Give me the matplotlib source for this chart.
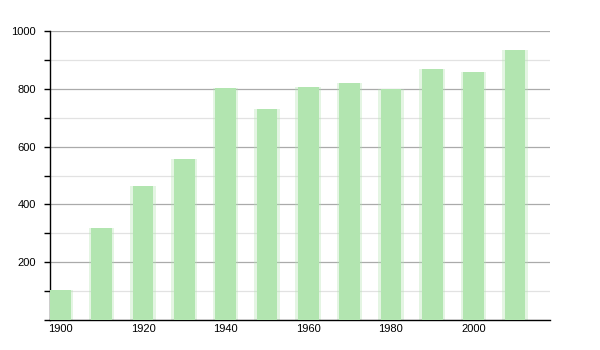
import matplotlib
matplotlib.use("Agg")
import matplotlib.pyplot as plt
from matplotlib.ticker import MultipleLocator

years = [1900, 1910, 1920, 1930, 1940, 1950, 1960, 1970, 1980, 1990, 2000, 2010]
values = [105, 318, 464, 557, 803, 730, 806, 820, 799, 868, 858, 934]
xtick_labels = ["1900", "1920", "1940", "1960", "1980", "2000"]
ytick_labels = ["200", "400", "600", "800", "1000"]

plt.rcParams['font.family'] = ['Liberation Sans', 'DejaVu Sans']

fig = plt.figure(figsize=(6, 3.5), dpi=100)
ax = fig.add_axes([50/600, 30/350, 500/600, 289/350])

color = '#b2e5b0'
# soft edges
ax.bar(years, values, width=6.2, color=color, alpha=0.35, zorder=2, linewidth=0)
ax.bar(years, values, width=5.0, color=color, zorder=3, linewidth=0)

ax.set_xlim(1897.5, 2018.5)
ax.set_ylim(0, 1000)
ax.yaxis.set_major_locator(MultipleLocator(200))
ax.yaxis.set_minor_locator(MultipleLocator(100))
ax.set_yticks([int(t) for t in ytick_labels])
ax.set_yticklabels(ytick_labels)
ax.set_xticks([int(t) for t in xtick_labels])
ax.set_xticklabels(xtick_labels)

ax.grid(axis='y', which='major', color='#aaaaaa', linewidth=0.9, zorder=1)
ax.grid(axis='y', which='minor', color='#e2e2e2', linewidth=0.9, zorder=1)
ax.set_axisbelow(True)

for s in ['top', 'right']:
    ax.spines[s].set_visible(False)
ax.spines['left'].set_color('black')
ax.spines['bottom'].set_color('black')
ax.spines['left'].set_linewidth(1.0)
ax.spines['bottom'].set_linewidth(1.0)

ax.tick_params(axis='y', which='both', length=4, width=1, labelsize=8, pad=6, colors='black')
ax.tick_params(axis='x', which='both', length=0, labelsize=8, pad=3, colors='black')

fig.savefig("out.png", dpi=100)
